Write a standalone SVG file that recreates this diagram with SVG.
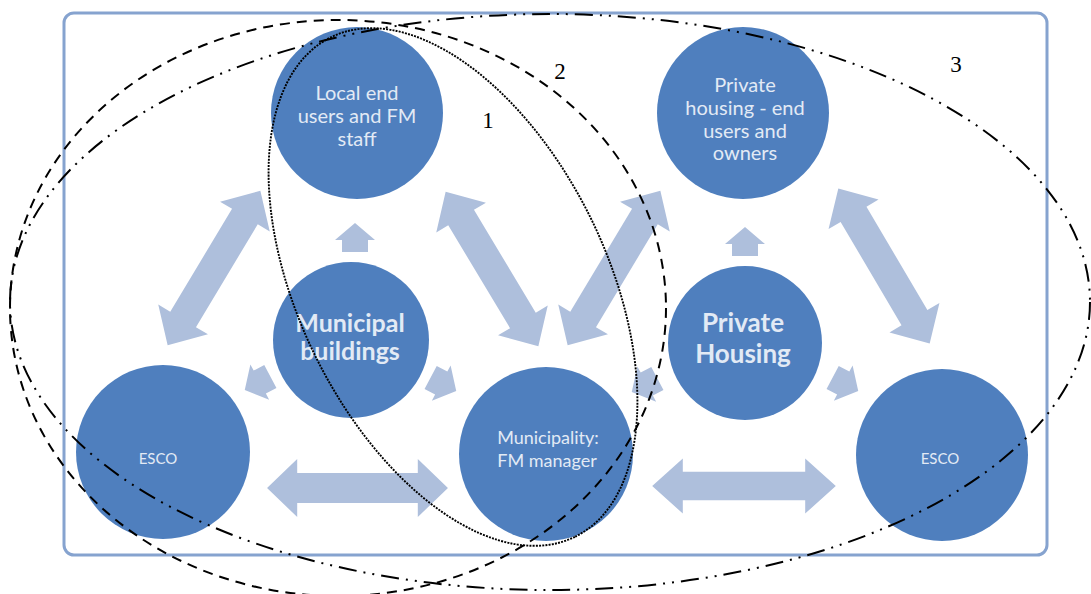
<svg xmlns="http://www.w3.org/2000/svg" width="1091" height="594" viewBox="0 0 1091 594">
  <style>
    .frame { fill: #ffffff; stroke: #86a3cf; stroke-width: 3; }
    .circ { fill: #4f7fbe; }
    .arr { fill: #aebfdc; }
    .t { font-family: Lato, "Open Sans", "Liberation Sans", sans-serif; fill: #e2eaf5; text-anchor: middle; }
    .tb { font-family: Lato, "Open Sans", "Liberation Sans", sans-serif; fill: #e2eaf5; text-anchor: middle; font-weight: bold; }
    .num { font-family: "Liberation Serif", "Times New Roman", serif; font-size: 23px; fill: #000000; text-anchor: middle; }
    .grp { fill: none; stroke: #000000; }
  </style>
  <defs>
    <path id="dbl" d="M -90 0 L -60 -29 L -60 -15 L 60 -15 L 60 -29 L 90 0 L 60 29 L 60 15 L -60 15 L -60 29 Z"/>
    <path id="sgl" d="M 15 0 L -2 -20 L -2 -13 L -14 -13 L -14 13 L -2 13 L -2 20 Z"/>
  </defs>

  <rect class="frame" x="64" y="13" width="983" height="542" rx="10" ry="10"/>

  <g id="connectors">
    <use href="#dbl" class="arr" transform="translate(214 268) rotate(-59)"/>
    <use href="#dbl" class="arr" transform="translate(492 269) rotate(59)"/>
    <use href="#dbl" class="arr" transform="translate(614 268) rotate(-59)"/>
    <use href="#dbl" class="arr" transform="translate(884 266) rotate(59.5)"/>
    <use href="#dbl" class="arr" transform="translate(357.5 488) scale(1.005 1)"/>
    <use href="#dbl" class="arr" transform="translate(744 486) scale(1.02 0.95)"/>
    <use href="#sgl" class="arr" transform="translate(355 238) rotate(-90)"/>
    <use href="#sgl" class="arr" transform="translate(745 242) rotate(-90)"/>
    <use href="#sgl" class="arr" transform="translate(258 383) rotate(152)"/>
    <use href="#sgl" class="arr" transform="translate(443 384) rotate(28)"/>
    <use href="#sgl" class="arr" transform="translate(645 385) rotate(152)"/>
    <use href="#sgl" class="arr" transform="translate(845 384) rotate(28)"/>
  </g>

  <g id="node-local-end-users">
    <circle class="circ" cx="357" cy="113" r="86"/>
    <text class="t" font-size="20" x="357" y="100">Local end</text>
    <text class="t" font-size="20" x="357" y="123">users and FM</text>
    <text class="t" font-size="20" x="357" y="146">staff</text>
  </g>

  <g id="node-private-end-users">
    <circle class="circ" cx="743" cy="113" r="86"/>
    <text class="t" font-size="20" x="745" y="92">Private</text>
    <text class="t" font-size="20" x="745" y="115">housing - end</text>
    <text class="t" font-size="20" x="745" y="138">users and</text>
    <text class="t" font-size="20" x="745" y="160">owners</text>
  </g>

  <g id="node-municipal-buildings">
    <circle class="circ" cx="351" cy="340" r="78"/>
    <text class="tb" font-size="25" x="350" y="332">Municipal</text>
    <text class="tb" font-size="25" x="350" y="360">buildings</text>
  </g>

  <g id="node-private-housing">
    <circle class="circ" cx="745" cy="343" r="77"/>
    <text class="tb" font-size="26" x="743" y="332">Private</text>
    <text class="tb" font-size="26" x="743" y="363">Housing</text>
  </g>

  <g id="node-esco-left">
    <circle class="circ" cx="163" cy="452" r="87"/>
    <text class="t" font-size="15" x="158" y="464">ESCO</text>
  </g>

  <g id="node-municipality-fm">
    <circle class="circ" cx="546" cy="454" r="87"/>
    <text class="t" font-size="18" x="548" y="444">Municipality:</text>
    <text class="t" font-size="18" x="547" y="467">FM manager</text>
  </g>

  <g id="node-esco-right">
    <circle class="circ" cx="942" cy="455" r="86"/>
    <text class="t" font-size="15" x="940" y="464">ESCO</text>
  </g>

  <g id="groupings">
    <ellipse class="grp" cx="0" cy="0" rx="278" ry="154" transform="translate(453 287) rotate(64)" stroke-width="1.9" stroke-dasharray="2 1.2"/>
    <ellipse class="grp" cx="338" cy="308" rx="328" ry="288" stroke-width="2" stroke-dasharray="10 7"/>
    <ellipse class="grp" cx="550" cy="302" rx="540" ry="288" stroke-width="2" stroke-dasharray="18 7 2 7 2 7"/>
  </g>

  <g id="labels">
    <text class="num" x="488" y="128">1</text>
    <text class="num" x="560" y="79">2</text>
    <text class="num" x="956" y="72">3</text>
  </g>
</svg>
